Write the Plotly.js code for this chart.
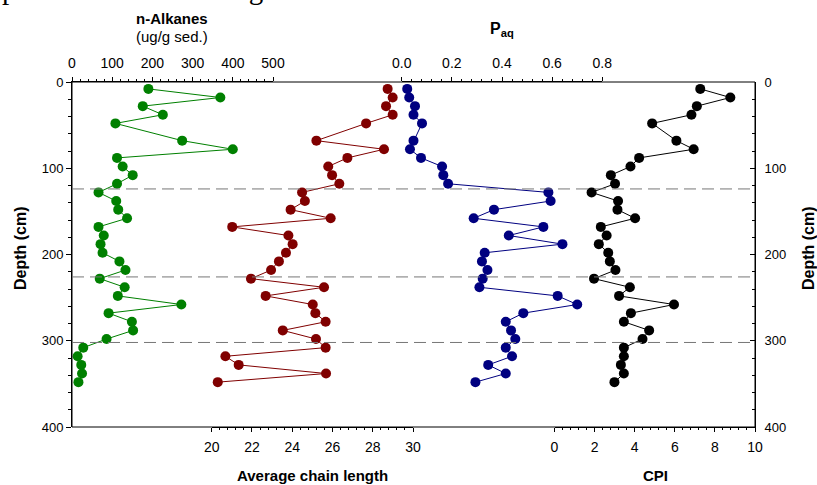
<!DOCTYPE html>
<html>
<head>
<meta charset="utf-8">
<script src="https://cdn.plot.ly/plotly-3.0.1.min.js"></script>
<style>html,body{margin:0;padding:0;background:#fff;}#chart{width:817px;height:485px;}</style>
</head>
<body>
<div id="chart"></div>
<script>
// Depth of each sample (cm)
const depth = [8,18,28,38,48,68,78,88,98,108,118,128,138,148,158,168,178,188,
               198,208,218,228,238,248,258,268,278,288,298,308,318,328,338,348];
// n-Alkanes (ug/g sed.)
const alkanes = [190,369,176,226,108,274,400,112,126,151,112,66,110,115,137,66,79,71,
                 76,118,133,69,131,114,272,91,149,152,86,28,14,23,25,16];
// Average chain length
const acl = [28.74,28.99,28.66,28.99,27.67,25.20,28.56,26.74,25.79,25.98,26.34,24.49,24.63,23.92,25.91,21.02,23.81,24.02,
             23.69,23.34,22.95,21.95,25.58,22.68,25.02,25.15,25.66,23.53,25.18,25.66,20.68,21.34,25.68,20.30];
// Paq
const paq = [0.022,0.030,0.053,0.047,0.081,0.047,0.033,0.077,0.161,0.166,0.185,0.585,0.594,0.368,0.287,0.565,0.427,0.641,
             0.331,0.320,0.342,0.323,0.310,0.622,0.700,0.485,0.415,0.436,0.453,0.415,0.440,0.345,0.415,0.294];
// CPI
const cpi = [7.27,8.77,7.10,6.83,4.87,6.08,6.94,4.22,3.79,2.81,3.02,1.85,3.17,3.14,4.02,2.31,2.60,2.21,
             2.68,2.76,3.04,1.97,3.76,3.22,5.96,3.81,3.46,4.72,4.39,3.46,3.46,3.31,3.46,2.99];
// Boundary depths (dashed lines)
const boundaries = [124, 226, 302];

const FONT = '"Liberation Sans", Arial, sans-serif';

function series(x, color, xa) {
  return {
    x: x, y: depth, xaxis: xa, yaxis: 'y', type: 'scatter', mode: 'lines+markers',
    line: {color: color, width: 1}, marker: {color: color, size: 10},
    cliponaxis: false, hoverinfo: 'skip', showlegend: false
  };
}
const traces = [
  series(alkanes, '#008000', 'x'),
  series(acl, '#800000', 'x2'),
  series(paq, '#000080', 'x3'),
  series(cpi, '#000000', 'x4'),
  {x: [null], y: [null], xaxis: 'x4', yaxis: 'y2', type: 'scatter', mode: 'markers', showlegend: false, hoverinfo: 'skip'}
];

function xax(opts) {
  return Object.assign({
    anchor: 'y', showgrid: false, zeroline: false, showline: true, linecolor: '#000', linewidth: 1,
    ticks: 'outside', ticklen: 4, tickcolor: '#000', tickwidth: 1,
    tickfont: {family: FONT, size: 14, color: '#000'}, ticklabelstandoff: 3, fixedrange: true
  }, opts);
}

const L = 72, T = 82, W = 683, H = 345;
const px = v => (v - L) / W;
const py = v => (T + H - v) / H;

const shapes = [
  {type: 'rect', xref: 'paper', yref: 'paper', x0: 0, x1: 1, y0: 0, y1: 1, line: {color: '#000', width: 1}}
].concat(boundaries.map(d => ({
  type: 'line', xref: 'paper', yref: 'y', x0: 0, x1: 1, y0: d, y1: d,
  line: {color: '#777', width: 1, dash: '12px,6px'}
})));

const ann = (text, x, y, size, extra) => Object.assign({
  text: text, xref: 'paper', yref: 'paper', x: px(x), y: py(y), xanchor: 'center', yanchor: 'middle',
  showarrow: false, font: {family: FONT, size: size, color: '#000'}
}, extra || {});

const annotations = [
  ann('potential source of organic carbon', 0, 7, 29, {xanchor: 'left', yanchor: 'bottom', font: {family: '"Liberation Serif", "Times New Roman", serif', size: 29, color: '#000'}}),
  ann('<b>n-Alkanes</b>', 172, 18, 15),
  ann('(ug/g sed.)', 172, 36, 15),
  ann('<b>P<sub>aq</sub></b>', 502, 30, 16),
  ann('<b>Average chain length</b>', 312, 475, 15),
  ann('<b>CPI</b>', 655, 475, 15),
  ann('<b>Depth (cm)</b>', 20, 248, 16, {textangle: -90}),
  ann('<b>Depth (cm)</b>', 808, 248, 16, {textangle: -90})
];

const layout = {
  width: 817, height: 485,
  margin: {l: L, r: 817 - L - W, t: T, b: 485 - T - H, pad: 0},
  paper_bgcolor: '#fff', plot_bgcolor: 'rgba(0,0,0,0)',
  showlegend: false, hovermode: false,
  font: {family: FONT, color: '#000'},
  xaxis: xax({side: 'top', domain: [0, px(273)], range: [0, 500], autorange: false, tick0: 0, dtick: 100,
              minor: {dtick: 20, ticklen: 2, ticks: 'outside', tickcolor: '#000'}}),
  xaxis2: xax({side: 'bottom', domain: [px(211.7), px(413)], range: [20, 30], autorange: false, tick0: 20, dtick: 2,
               minor: {dtick: 0.4, ticklen: 2, ticks: 'outside', tickcolor: '#000'}}),
  xaxis3: xax({side: 'top', domain: [px(401.7), px(602.3)], range: [0, 0.8], autorange: false, tick0: 0, dtick: 0.2, tickformat: '.1f',
               minor: {dtick: 0.04, ticklen: 2, ticks: 'outside', tickcolor: '#000'}}),
  xaxis4: xax({side: 'bottom', domain: [px(554.5), 1], range: [0, 10], autorange: false, tick0: 0, dtick: 2,
               minor: {dtick: 0.4, ticklen: 2, ticks: 'outside', tickcolor: '#000'}}),
  yaxis: {anchor: 'x', range: [400, 0], autorange: false, tick0: 0, dtick: 100, showgrid: false, zeroline: false,
          showline: true, linecolor: '#000', linewidth: 1, ticks: 'outside', ticklen: 5, tickcolor: '#000',
          minor: {dtick: 20, ticklen: 3, ticks: 'outside', tickcolor: '#000'},
          tickfont: {family: FONT, size: 13, color: '#000'}, fixedrange: true},
  yaxis2: {anchor: 'x4', overlaying: 'y', side: 'right', range: [400, 0], autorange: false, tick0: 0, dtick: 100,
           showgrid: false, zeroline: false, showline: true, linecolor: '#000', linewidth: 1,
           ticks: 'inside', ticklen: 5, tickcolor: '#000',
           minor: {dtick: 20, ticklen: 3, ticks: 'inside', tickcolor: '#000'},
           tickfont: {family: FONT, size: 13, color: '#000'}, ticklabelstandoff: 6, fixedrange: true},
  shapes: shapes,
  annotations: annotations
};

Plotly.newPlot('chart', traces, layout, {staticPlot: true, displayModeBar: false});
</script>
</body>
</html>
